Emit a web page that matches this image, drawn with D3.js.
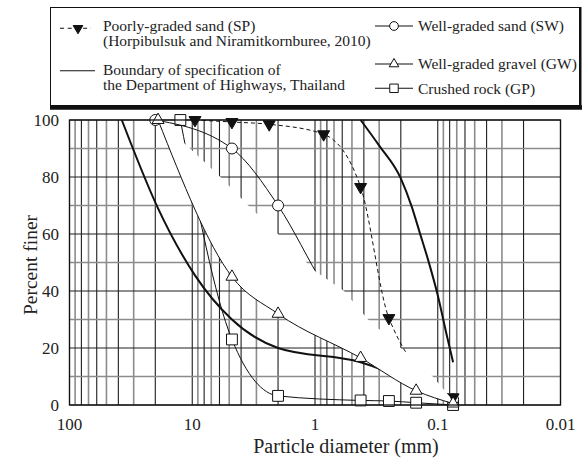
<!DOCTYPE html>
<html>
<head>
<meta charset="utf-8">
<script src="https://cdn.jsdelivr.net/npm/d3@7"></script>
<style>
body { margin: 0; background: #fff; }
svg { display: block; }
text { font-family: "Liberation Serif", "Times New Roman", serif; fill: #222; }
</style>
</head>
<body>
<svg id="chart" width="582" height="458"></svg>
<script>
const width = 582;
const height = 458;
const plotLeft = 69.5, plotRight = 560.5, plotTop = 120, plotBottom = 405;

// particle diameter (mm) / percent finer
const spSize = [9.5, 4.75, 2.36, 0.85, 0.425, 0.25, 0.075];
const spFiner = [100, 99.3, 98.5, 95, 76.5, 30.5, 2.7];

const swSize = [20, 4.75, 2, 0.85, 0.425, 0.25, 0.15, 0.075];
const swFiner = [100, 90, 70, 42, 22, 13, 7, 2];

const gwSize = [19, 4.75, 2, 0.425, 0.15, 0.075];
const gwFiner = [100, 45, 32, 16.5, 5, 0.5];

const gpSize = [12.5, 4.75, 2, 0.425, 0.25, 0.15, 0.075];
const gpFiner = [100, 23, 3.2, 1.6, 1.4, 0.8, 0];

// specification envelope (Department of Highways)
const lowSize = [37.5, 19, 9.5, 4.75, 2, 0.425, 0.075];
const lowFiner = [100, 69, 45.5, 30, 20, 15, 0.5];

const upSize = [0.425, 0.3, 0.2, 0.163, 0.14, 0.12, 0.1, 0.085, 0.075];
const upFiner = [100, 91, 79.5, 69.6, 60.4, 51, 38.5, 25, 15];

// blank band in the original figure, edge opposite the GW curve
const maskSize = [10.4, 5.9, 3.5, 2.0, 1.0, 0.58, 0.37, 0.2, 0.11, 0.08];
const maskFiner = [90, 80, 70, 60, 47, 40, 30, 20, 10, 3];

const xTicks = [100, 10, 1, 0.1, 0.01];
const xTickLabels = ["100", "10", "1", "0.1", "0.01"];
const yTicks = [0, 20, 40, 60, 80, 100];

const x = d3.scaleLog().domain([100, 0.01]).range([plotLeft, plotRight]);
const y = d3.scaleLinear().domain([0, 100]).range([plotBottom, plotTop]);

const svg = d3.select('#chart').attr("viewBox", [0, 0, width, height]);

// Grid
const vLines = [];
[-2, -1, 0, 1].forEach(k => {
    for (let m = 1; m <= 9; m++) vLines.push({ v: +(m * Math.pow(10, k)).toPrecision(3), m: m });
});
vLines.push({ v: 100, m: 1 });

svg.append('g')
    .selectAll('line')
    .data(vLines)
    .join('line')
    .attr('x1', d => x(d.v)).attr('x2', d => x(d.v))
    .attr('y1', plotTop).attr('y2', plotBottom)
    .style('stroke', d => d.m % 2 === 1 && d.m !== 1 ? '#8c8c8c' : '#1e1e1e')
    .style('stroke-width', d => d.m % 2 === 1 && d.m !== 1 ? 1.6 : 1.1);

svg.append('g')
    .selectAll('line')
    .data(d3.range(0, 101, 10))
    .join('line')
    .attr('x1', plotLeft).attr('x2', plotRight)
    .attr('y1', d => y(d)).attr('y2', d => y(d))
    .style('stroke', d => d % 20 === 10 ? '#8c8c8c' : '#1e1e1e')
    .style('stroke-width', d => d % 20 === 10 ? 1.6 : 1.1);

const line = d3.line()
    .x(d => x(d[0]))
    .y(d => y(d[1]))
    .curve(d3.curveMonotoneX);

const sp = d3.zip(spSize, spFiner);
const sw = d3.zip(swSize, swFiner);
const gw = d3.zip(gwSize, gwFiner);
const gp = d3.zip(gpSize, gpFiner);
const low = d3.zip(lowSize, lowFiner);
const up = d3.zip(upSize, upFiner);
const mask = d3.zip(maskSize, maskFiner);

const sym = {
    circle: d3.symbol().type(d3.symbolCircle).size(95),
    tri: d3.symbol().type(d3.symbolTriangle).size(62),
    square: d3.symbol().type(d3.symbolSquare).size(118)
};

function series(data, opts) {
    const g = svg.append('g');
    g.append('path')
        .datum(data)
        .attr('d', line)
        .style('fill', 'none')
        .style('stroke', '#111')
        .style('stroke-width', opts.width || 1)
        .style('stroke-dasharray', opts.dash || null);
    if (opts.symbol) {
        g.selectAll('path.pt')
            .data(data)
            .join('path')
            .classed('pt', true)
            .attr('d', opts.symbol)
            .attr('transform', d => `translate(${x(d[0])},${y(d[1])})` + (opts.flip ? ' rotate(180)' : ''))
            .style('fill', opts.fill || '#fff')
            .style('stroke', '#111')
            .style('stroke-width', 1);
    }
}

// Curves under the blank band
series(gp, { symbol: sym.square });
series(sw, { symbol: sym.circle });
series(sp, { symbol: sym.tri, flip: true, fill: '#111', dash: '4,3' });
series(low, { width: 2 });
series(up, { width: 2 });

// Blank band between GW curve and the stepped edge
const maskPath = line(gw) + mask.slice().reverse().map(d => `L${x(d[0])},${y(d[1])}`).join('') + 'Z';
svg.append('path')
    .attr('d', maskPath)
    .style('fill', '#fff')
    .style('stroke', 'none');

series(gw, { symbol: sym.tri });

// Frame
svg.append('rect')
    .attr('x', plotLeft).attr('y', plotTop)
    .attr('width', plotRight - plotLeft).attr('height', plotBottom - plotTop)
    .style('fill', 'none').style('stroke', '#111').style('stroke-width', 1.3);

// Tick labels
svg.append('g')
    .selectAll('text')
    .data(xTicks)
    .join('text')
    .attr('x', d => x(d))
    .attr('y', 429.5)
    .attr('text-anchor', 'middle')
    .attr('font-size', 17)
    .text((d, i) => xTickLabels[i]);

svg.append('g')
    .selectAll('text')
    .data(yTicks)
    .join('text')
    .attr('x', 59)
    .attr('y', d => y(d))
    .attr('dy', '0.35em')
    .attr('text-anchor', 'end')
    .attr('font-size', 17)
    .text(d => d);

svg.append('text')
    .attr('x', 346).attr('y', 453)
    .attr('text-anchor', 'middle')
    .attr('font-size', 20)
    .text('Particle diameter (mm)');

svg.append('text')
    .attr('transform', 'translate(37,265) rotate(-90)')
    .attr('text-anchor', 'middle')
    .attr('font-size', 19.5)
    .text('Percent finer');

// Legend
const lg = svg.append('g');
lg.append('rect')
    .attr('x', 50.5).attr('y', 7.5).attr('width', 529).attr('height', 98)
    .style('fill', '#fff').style('stroke', '#111').style('stroke-width', 1);
lg.append('line')
    .attr('x1', 50).attr('x2', 582).attr('y1', 107.5).attr('y2', 107.5)
    .style('stroke', '#111').style('stroke-width', 4.5);
lg.append('line')
    .attr('x1', 580.5).attr('x2', 580.5).attr('y1', 7).attr('y2', 107)
    .style('stroke', '#111').style('stroke-width', 2);

const legendItems = [
    { x1: 60, x2: 91, mx: 78, y: 28.3, dash: '4,3.7', symbol: d3.symbol().type(d3.symbolTriangle).size(40), flip: true, fill: '#111', tx: 103, lines: ['Poorly-graded sand (SP)', '(Horpibulsuk and Niramitkornburee, 2010)'], ty: 31 },
    { x1: 60, x2: 95, y: 70.7, tx: 103, lines: ['Boundary of specification of', 'the Department of Highways, Thailand'], ty: 75.3 },
    { x1: 375, x2: 413, mx: 394, y: 26, symbol: d3.symbol().type(d3.symbolCircle).size(60), tx: 418, lines: ['Well-graded sand (SW)'], ty: 31 },
    { x1: 375, x2: 413, mx: 394, y: 64, symbol: d3.symbol().type(d3.symbolTriangle).size(40), tx: 418, lines: ['Well-graded gravel (GW)'], ty: 68.6 },
    { x1: 375, x2: 413, mx: 394, y: 88.3, symbol: d3.symbol().type(d3.symbolSquare).size(72), tx: 418, lines: ['Crushed rock (GP)'], ty: 93.6 }
];

legendItems.forEach(it => {
    lg.append('line')
        .attr('x1', it.x1).attr('x2', it.x2).attr('y1', it.y).attr('y2', it.y)
        .style('stroke', '#111').style('stroke-width', 1.1)
        .style('stroke-dasharray', it.dash || null);
    if (it.symbol) {
        lg.append('path')
            .attr('d', it.symbol)
            .attr('transform', `translate(${it.mx},${it.y})` + (it.flip ? ' rotate(180)' : ''))
            .style('fill', it.fill || '#fff').style('stroke', '#111').style('stroke-width', 1);
    }
    lg.selectAll(null)
        .data(it.lines)
        .join('text')
        .attr('x', it.tx)
        .attr('y', (d, i) => it.ty + i * 14.7)
        .attr('font-size', 15.5)
        .text(d => d);
});
</script>
</body>
</html>
